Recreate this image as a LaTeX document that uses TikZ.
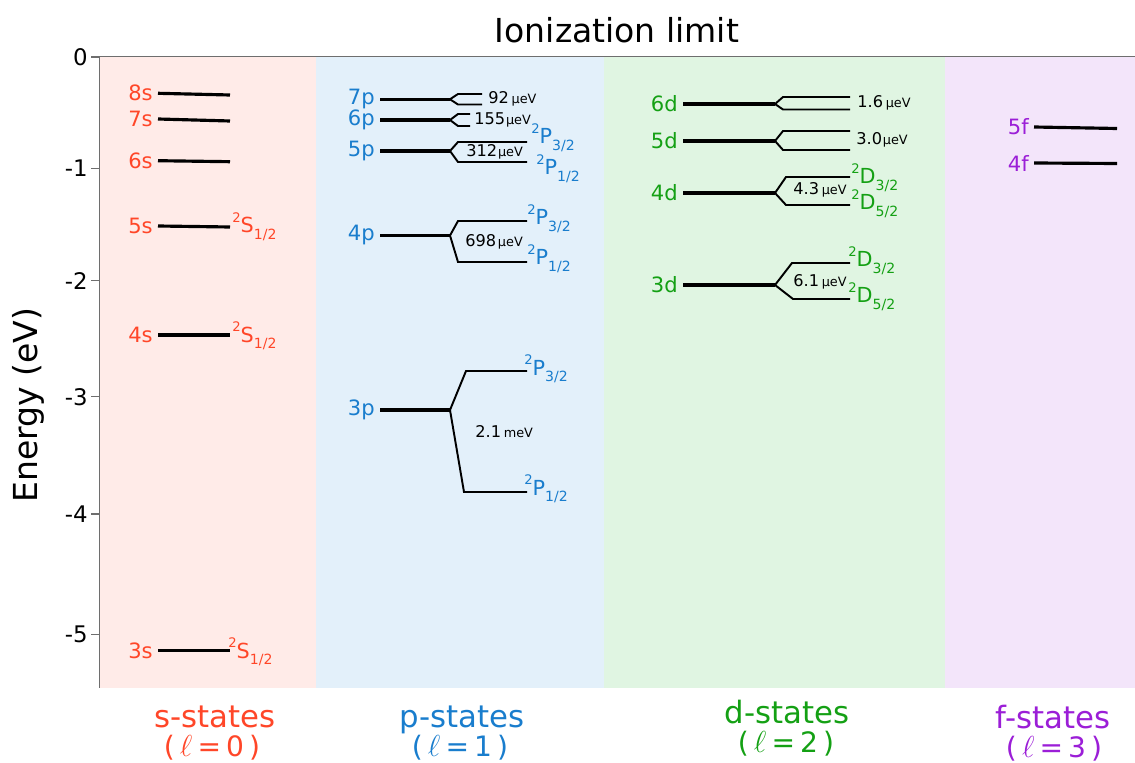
\documentclass[tikz,border=0pt]{standalone}
\usepackage{fontspec}
\setmainfont{DejaVu Sans}
\usepackage{xcolor}
\usetikzlibrary{positioning,calc}

\definecolor{sred}{RGB}{255,70,40}
\definecolor{sbg}{RGB}{255,235,232}
\definecolor{pblue}{RGB}{25,125,205}
\definecolor{pbg}{RGB}{227,240,250}
\definecolor{dgreen}{RGB}{20,160,20}
\definecolor{dbg}{RGB}{224,245,226}
\definecolor{fpurple}{RGB}{155,30,215}
\definecolor{fbg}{RGB}{243,229,250}
\definecolor{axgray}{RGB}{110,110,110}

\newcommand{\fsterm}[2]{\raisebox{0.5em}{\fontsize{7.5}{8}\selectfont 2}#1\raisebox{-0.33em}{\fontsize{8}{9}\selectfont #2}}
\newcommand{\ueV}{{\fontsize{7.3}{8}\selectfont μeV}}
\newcommand{\umeV}{{\fontsize{7.3}{8}\selectfont meV}}
\newcommand{\lval}[1]{(\hspace{0.18em}$\ell$\hspace{0.18em}=\hspace{0.18em}#1\hspace{0.18em})}

\begin{document}
\begin{tikzpicture}[x=0.02cm,y=-0.02cm,
    lvl/.style={line width=1.8pt},
    fine/.style={line width=1.1pt},
    lab/.style={anchor=east,inner xsep=2.8pt,inner ysep=0pt,font=\fontsize{12}{14}\selectfont},
    trm/.style={anchor=base west,inner sep=0pt,font=\fontsize{11.8}{13}\selectfont},
    gap/.style={anchor=west,inner sep=0pt,font=\fontsize{9.2}{11}\selectfont},
    hdr/.style={anchor=base,inner sep=0pt,font=\fontsize{17.5}{20}\selectfont},
    lhdr/.style={anchor=base,inner sep=0pt,font=\fontsize{16}{18}\selectfont}]
    \useasboundingbox (0,0) rectangle (1135,763);

    % Bands
    \fill[sbg] (100,57) rectangle (316,688);
    \fill[pbg] (316,57) rectangle (604,688);
    \fill[dbg] (604,57) rectangle (945,688);
    \fill[fbg] (945,57) rectangle (1135,688);

    % Axis
    \draw[axgray,line width=0.8pt] (1135,56.5) -- (99.5,56.5) -- (99.5,688);
    \foreach \yy/\tl [count=\i] in {57/0,168.3/-1,280.7/-2,396.7/-3,514/-4,634.3/-5}{
        \draw[axgray,line width=0.6pt] (91,\yy) -- (99.5,\yy);
        \node[anchor=east,inner sep=0pt,font=\fontsize{13}{15}\selectfont] (tick\i) at (88,\yy) {\tl};
    }
    \node[font=\fontsize{18.8}{22}\selectfont] (title) at (617,30) {Ionization limit};
    \node[rotate=90,font=\fontsize{18.8}{22}\selectfont] (ylab) at (28,405) {Energy (eV)};

    % s-states
    \foreach \nm/\ya/\yb in {8s/93.3/95,7s/119/121,6s/160.7/161.7,5s/226/227,4s/335/335,3s/650.7/650.7}{
        \node[lab,text=sred] (n\nm) at (158,\ya) {\nm};
        \draw[lvl] (n\nm.east) -- (230,\yb);
    }
    \node[trm,text=sred] (t5s) at (232,233) {\fsterm{S}{1/2}};
    \node[trm,text=sred] (t4s) at (232,342) {\fsterm{S}{1/2}};
    \node[trm,text=sred] (t3s) at (228,658) {\fsterm{S}{1/2}};

    % p-states
    \foreach \nm/\yy in {7p/99.3,6p/120,5p/151,4p/235.5,3p/410}{
        \node[lab,text=pblue] (n\nm) at (380,\yy) {\nm};
        \draw[lvl] (n\nm.east) -- (450,\yy) coordinate (c\nm);
    }
    \draw[fine] (c7p) -- (458,94) -- (482,94);
    \draw[fine] (c7p) -- (458,104.5) -- (482,104.5);
    \draw[fine] (c6p) -- (458,114) -- (470,114);
    \draw[fine] (c6p) -- (458,126) -- (470,126);
    \draw[fine] (c5p) -- (458,142) -- (527,142);
    \draw[fine] (c5p) -- (458,162) -- (527,162);
    \draw[fine] (c4p) -- (458,221) -- (527,221);
    \draw[fine] (c4p) -- (458,262) -- (527,262);
    \draw[fine] (c3p) -- (466,371) -- (527,371);
    \draw[fine] (c3p) -- (464,492) -- (527,492);
    \node[gap] (g7p) at (488,99) {92\,\ueV};
    \node[gap] (g6p) at (474,120) {155\kern0.5pt\ueV};
    \node[gap] (g5p) at (466,152) {312\kern0.5pt\ueV};
    \node[gap] (g4p) at (465,242) {698\kern1pt\ueV};
    \node[gap] (g3p) at (475,432) {2.1\,\umeV};
    \node[trm,text=pblue] (t5pa) at (531,144) {\fsterm{P}{3/2}};
    \node[trm,text=pblue] (t5pb) at (536,175) {\fsterm{P}{1/2}};
    \node[trm,text=pblue] (t4pa) at (527,225) {\fsterm{P}{3/2}};
    \node[trm,text=pblue] (t4pb) at (527,265) {\fsterm{P}{1/2}};
    \node[trm,text=pblue] (t3pa) at (524,375) {\fsterm{P}{3/2}};
    \node[trm,text=pblue] (t3pb) at (524,495) {\fsterm{P}{1/2}};

    % d-states
    \foreach \nm/\yy in {6d/104,5d/141,4d/193,3d/285}{
        \node[lab,text=dgreen] (n\nm) at (683,\yy) {\nm};
        \draw[lvl] (n\nm.east) -- (775,\yy) coordinate (c\nm);
    }
    \draw[fine] (c6d) -- (783,97) -- (850,97);
    \draw[fine] (c6d) -- (783,109.5) -- (850,109.5);
    \draw[fine] (c5d) -- (783,131) -- (850,131);
    \draw[fine] (c5d) -- (783,150) -- (850,150);
    \draw[fine] (c4d) -- (786,177) -- (850,177);
    \draw[fine] (c4d) -- (786,205) -- (850,205);
    \draw[fine] (c3d) -- (792,263) -- (850,263);
    \draw[fine] (c3d) -- (793,299) -- (850,299);
    \node[gap] (g6d) at (857,103) {1.6\,\ueV};
    \node[gap] (g5d) at (856,140) {3.0\kern0.5pt\ueV};
    \node[gap] (g4d) at (793,190) {4.3\,\ueV};
    \node[gap] (g3d) at (793,282) {6.1\,\ueV};
    \node[trm,text=dgreen] (t4da) at (851,184) {\fsterm{D}{3/2}};
    \node[trm,text=dgreen] (t4db) at (851,210) {\fsterm{D}{5/2}};
    \node[trm,text=dgreen] (t3da) at (848,267) {\fsterm{D}{3/2}};
    \node[trm,text=dgreen] (t3db) at (848,303) {\fsterm{D}{5/2}};

    % f-states
    \foreach \nm/\ya/\yb in {5f/127/128.5,4f/163/163.5}{
        \node[lab,text=fpurple] (n\nm) at (1034,\ya) {\nm};
        \draw[lvl] (n\nm.east) -- (1117,\yb);
    }

    % Series labels
    \node[hdr,text=sred] (hs) at (215,727) {s-states};
    \node[lhdr,text=sred] (ls) at (212,756) {\lval{0}};
    \node[hdr,text=pblue] (hp) at (462,727) {p-states};
    \node[lhdr,text=pblue] (lp) at (460,756) {\lval{1}};
    \node[hdr,text=dgreen] (hd) at (787,723) {d-states};
    \node[lhdr,text=dgreen] (ld) at (786,752) {\lval{2}};
    \node[hdr,text=fpurple] (hf) at (1053,728) {f-states};
    \node[lhdr,text=fpurple] (lf) at (1054,757) {\lval{3}};
\end{tikzpicture}
\end{document}
